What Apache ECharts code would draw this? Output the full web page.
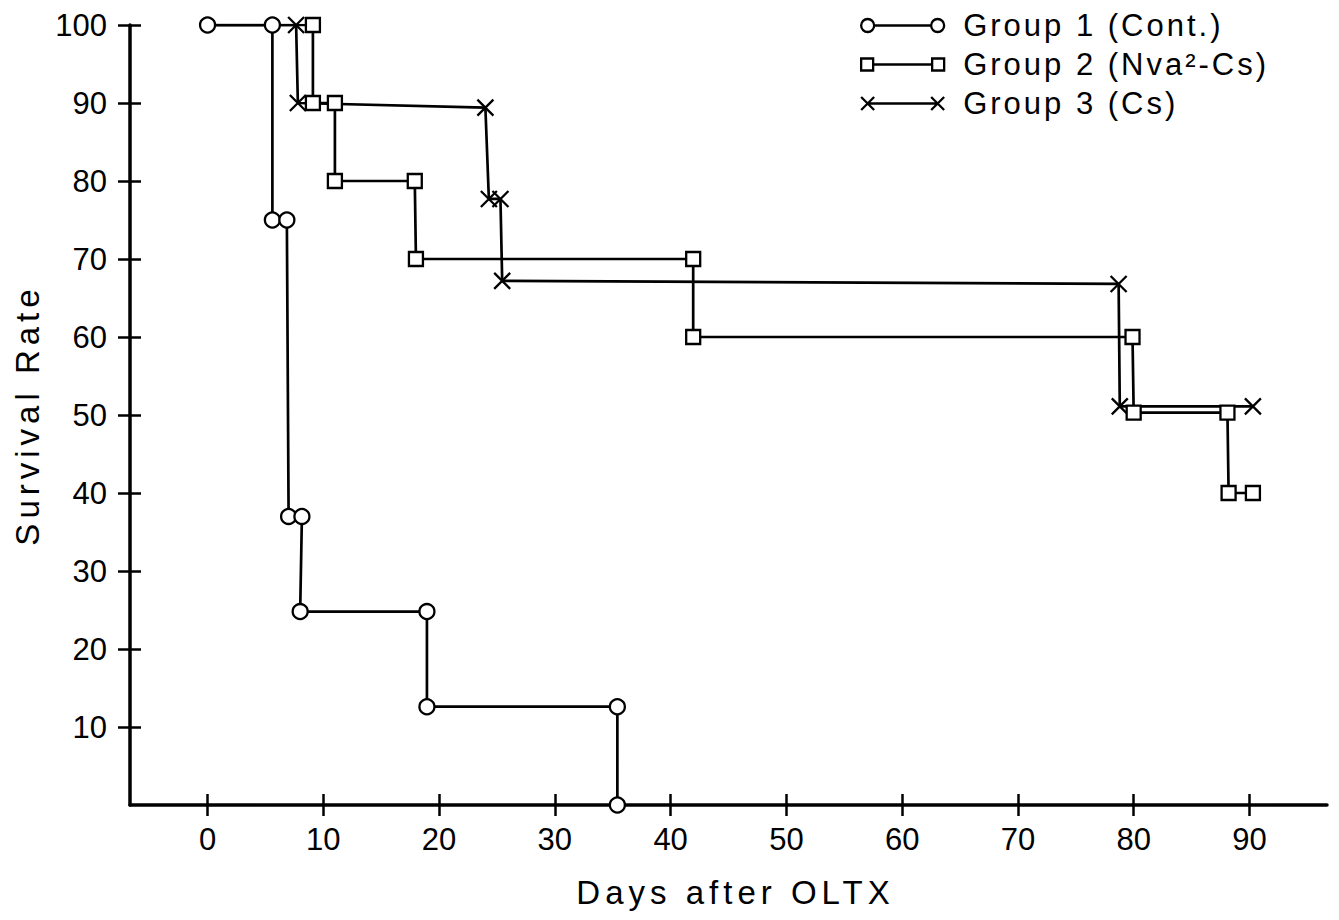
<!DOCTYPE html>
<html>
<head>
<meta charset="utf-8">
<script src="https://cdn.jsdelivr.net/npm/echarts@6/dist/echarts.min.js"></script>
<style>
  html, body { margin: 0; padding: 0; background: #fff; }
  #chart { width: 1339px; height: 920px; }
  text[style*="Arial"] { letter-spacing: 3px; }
  text[style*="Helvetica"] { letter-spacing: 5px; }
</style>
</head>
<body>
<div id="chart"></div>
<script>
// ---- data ----
const seriesNames = ['Group 1 (Cont.)', 'Group 2 (Nva²-Cs)', 'Group 3 (Cs)'];
const g1Days = [0, 5.6, 5.6, 6.85, 7.0, 8.15, 8.0, 18.95, 18.95, 35.4, 35.4];
const g1Rate = [100, 100, 75, 75, 37, 37, 24.8, 24.8, 12.6, 12.6, 0];
const g2Days = [0, 9.1, 9.1, 11.0, 11.0, 17.9, 18.0, 41.95, 41.95, 79.9, 80.0, 88.1, 88.2, 90.3];
const g2Rate = [100, 100, 90, 90, 80, 80, 70, 70, 60, 60, 50.3, 50.3, 40, 40];
const g3Days = [0, 7.65, 7.8, 24.0, 24.3, 25.3, 25.45, 78.7, 78.8, 90.3];
const g3Rate = [100, 100, 90, 89.4, 77.7, 77.7, 67.2, 66.8, 51.1, 51.1];
const xTickValues = [0, 10, 20, 30, 40, 50, 60, 70, 80, 90];
const yTickValues = [10, 20, 30, 40, 50, 60, 70, 80, 90, 100];

// ---- build ----
function pts(xs, ys, hideFirst) {
  return xs.map((x, i) => (hideFirst && i === 0) ? { value: [x, ys[i]], symbol: 'none' } : [x, ys[i]]);
}
const black = '#000';
const tickFont = "'Liberation Sans'";
const legendFont = "'Liberation Sans', Arial";
const nameFont = "'Liberation Sans', Helvetica";
const crossSymbol = 'path://M0,0L10,10M0,10L10,0';

const iconCircle = 'path://M0,6.5A6.5,6.5 0 1,1 13,6.5A6.5,6.5 0 1,1 0,6.5Z M13,6.5L70,6.5 M70,6.5A6.5,6.5 0 1,1 83,6.5A6.5,6.5 0 1,1 70,6.5Z';
const iconSquare = 'path://M0,0L12,0L12,12L0,12Z M12,6L71,6 M71,0L83,0L83,12L71,12Z';
const iconCross = 'path://M0,0L13,13M0,13L13,0 M6.5,6.5L76.5,6.5 M70,0L83,13M70,13L83,0';

const lineStyle = { color: black, width: 2.7 };
const markStyle = { color: '#fff', borderColor: black, borderWidth: 2.3 };

const xMin = -6.7, xMax = 96.7;

const option = {
  animation: false,
  backgroundColor: '#fff',
  grid: { left: 130, right: 12, top: 25, bottom: 115, containLabel: false },
  legend: {
    orient: 'vertical',
    left: 855,
    top: 5,
    itemWidth: 83,
    itemHeight: 13,
    itemGap: 8,
    selectedMode: false,
    data: [
      { name: seriesNames[0], icon: iconCircle },
      { name: seriesNames[1], icon: iconSquare },
      { name: seriesNames[2], icon: iconCross }
    ],
    itemStyle: { color: '#fff', borderColor: black, borderWidth: 2.3 },
    textStyle: { fontSize: 31, color: black, fontFamily: legendFont, padding: [0, 0, 0, 14] }
  },
  xAxis: [
    {
      type: 'value', min: xMin, max: xMax, position: 'bottom',
      name: 'Days after OLTX', nameLocation: 'middle', nameGap: 71,
      nameTextStyle: { fontSize: 33, color: black, fontFamily: nameFont, padding: [0, 0, 0, 14] },
      axisLine: { show: true, onZero: false, lineStyle: { color: black, width: 3.5 } },
      axisTick: { show: true, inside: false, length: 11, customValues: xTickValues, lineStyle: { color: black, width: 2.5 } },
      axisLabel: { show: true, customValues: xTickValues, margin: 19, fontSize: 31, color: black, fontFamily: tickFont },
      splitLine: { show: false }
    },
    {
      type: 'value', min: xMin, max: xMax, position: 'bottom',
      axisLine: { show: false, onZero: false },
      axisTick: { show: true, inside: true, length: 11, customValues: xTickValues, lineStyle: { color: black, width: 2.5 } },
      axisLabel: { show: false },
      splitLine: { show: false }
    }
  ],
  yAxis: [
    {
      type: 'value', min: 0, max: 100, position: 'left',
      name: 'Survival Rate', nameLocation: 'middle', nameGap: 85,
      nameTextStyle: { fontSize: 33, color: black, fontFamily: nameFont },
      axisLine: { show: true, onZero: false, lineStyle: { color: black, width: 3.5 } },
      axisTick: { show: true, inside: false, length: 12, customValues: yTickValues, lineStyle: { color: black, width: 2.5 } },
      axisLabel: { show: true, customValues: yTickValues, margin: 23, fontSize: 31, color: black, fontFamily: tickFont },
      splitLine: { show: false }
    },
    {
      type: 'value', min: 0, max: 100, position: 'left',
      axisLine: { show: false, onZero: false },
      axisTick: { show: true, inside: true, length: 11, customValues: yTickValues, lineStyle: { color: black, width: 2.5 } },
      axisLabel: { show: false },
      splitLine: { show: false }
    }
  ],
  series: [
    {
      name: seriesNames[2], type: 'line', z: 2,
      data: pts(g3Days, g3Rate, true),
      symbol: crossSymbol, symbolSize: 16,
      lineStyle: lineStyle, itemStyle: markStyle,
      emphasis: { disabled: true }
    },
    {
      name: seriesNames[1], type: 'line', z: 3,
      data: pts(g2Days, g2Rate, true),
      symbol: 'rect', symbolSize: 14,
      lineStyle: lineStyle, itemStyle: markStyle,
      emphasis: { disabled: true }
    },
    {
      name: seriesNames[0], type: 'line', z: 4,
      data: pts(g1Days, g1Rate, false),
      symbol: 'circle', symbolSize: 15,
      lineStyle: lineStyle, itemStyle: markStyle,
      emphasis: { disabled: true }
    }
  ]
};

const chart = echarts.init(document.getElementById('chart'), null, { renderer: 'svg' });
chart.setOption(option);
</script>
</body>
</html>
